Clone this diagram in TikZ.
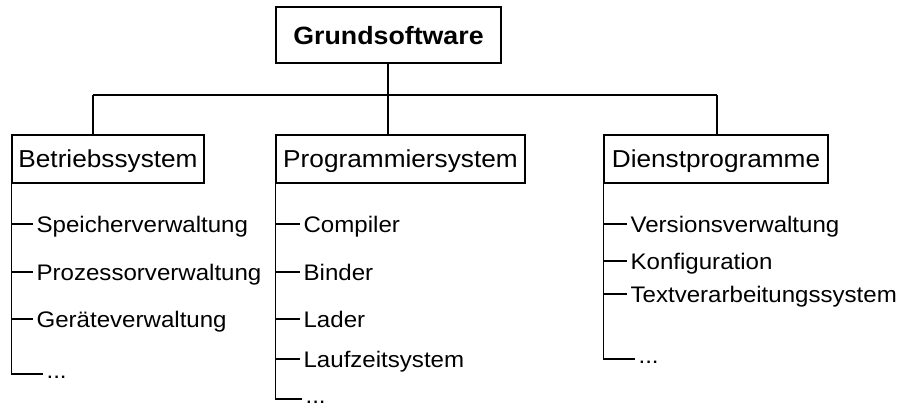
\documentclass[tikz,border=0pt]{standalone}
\usepackage{fontspec}
\setmainfont{Liberation Sans}[FakeStretch=1.07]
\begin{document}
\begin{tikzpicture}[x=1pt,y=-1pt,line width=1.2pt,
  box/.style={draw,inner sep=0pt,text depth=0pt},
  topbox/.style={box,font=\fontsize{25}{30}\selectfont\bfseries,text height=19pt,minimum width=225pt,minimum height=56pt},
  headbox/.style={box,font=\fontsize{24.5}{29}\selectfont,text height=17.4pt,minimum height=48pt},
  item/.style={anchor=west,inner ysep=0pt,inner xsep=3pt,text depth=0pt,text height=17.4pt,font=\fontsize{22.5}{27}\selectfont}]
\useasboundingbox (0,0) rectangle (902,402);
\node[topbox] (top) at (388.5,35) {Grundsoftware};
\node[headbox,minimum width=192pt] (b) at (108,159) {Betriebssystem};
\node[headbox,minimum width=249pt] (p) at (400.5,159) {Programmiersystem};
\node[headbox,minimum width=224pt] (d) at (716,159) {Dienstprogramme};
\coordinate (mid) at (388,95);
\coordinate (bl) at (93,95);
\coordinate (br) at (717,95);
\draw (top.south -| mid) -- (mid);
\draw (bl) -- (br);
\draw (bl) -- (b.north -| bl);
\draw (mid) -- (p.north -| mid);
\draw (br) -- (d.north -| br);
% Betriebssystem
\node[item] (b1) at (33,224) {Speicherverwaltung};
\node[item] (b2) at (33,272) {Prozessorverwaltung};
\node[item] (b3) at (33,319) {Geräteverwaltung};
\node[item,anchor=base west] (b4) at (43,378) {...};
\draw (b.south west) |- ([yshift=4pt]b4.base west);
\foreach \n in {b1,b2,b3} \draw (\n.west -| b.south west) -- (\n.west);
% Programmiersystem
\node[item] (p1) at (300,224) {Compiler};
\node[item] (p2) at (300,272) {Binder};
\node[item] (p3) at (300,319) {Lader};
\node[item] (p4) at (300,359) {Laufzeitsystem};
\node[item,anchor=base west] (p5) at (302,403) {...};
\draw (p.south west) |- ([yshift=4pt]p5.base west);
\foreach \n in {p1,p2,p3,p4} \draw (\n.west -| p.south west) -- (\n.west);
% Dienstprogramme
\node[item] (d1) at (627,224) {Versionsverwaltung};
\node[item] (d2) at (627,261) {Konfiguration};
\node[item] (d3) at (627,294) {Textverarbeitungssystem};
\node[item,anchor=base west] (d4) at (635,363) {...};
\draw (d.south west) |- ([yshift=4pt]d4.base west);
\foreach \n in {d1,d2,d3} \draw (\n.west -| d.south west) -- (\n.west);
\end{tikzpicture}
\end{document}
